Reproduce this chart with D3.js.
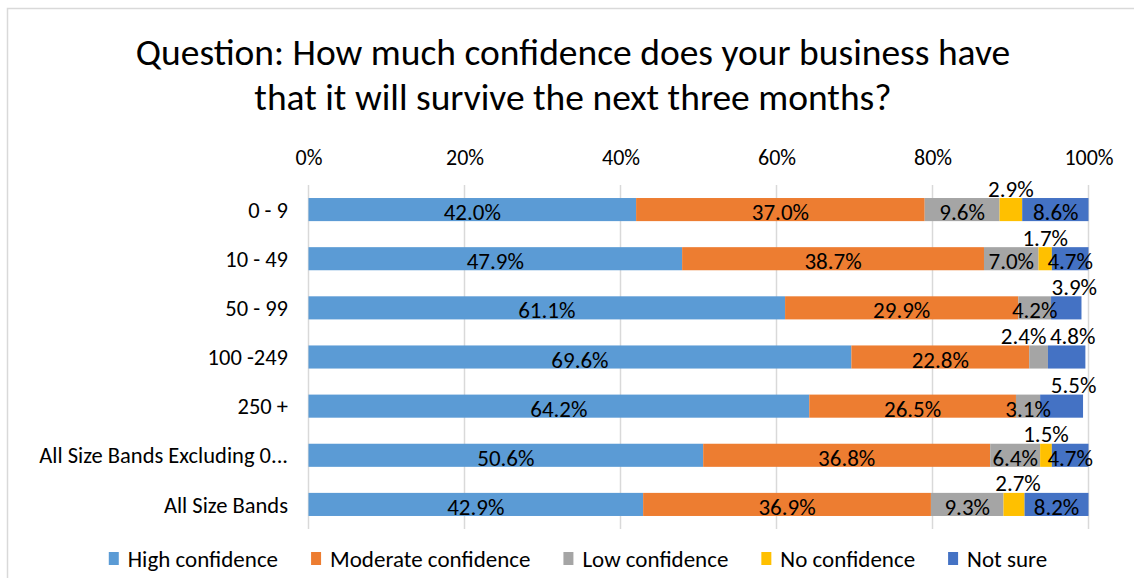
<!DOCTYPE html>
<html>
  <head>
    <meta charset="utf-8">
    <style>
    body {margin:0; background: white;}
    svg {background: white; display: block;}
    text {font-family: Carlito, Calibri, Lato, sans-serif; fill: #000;}
    .grid line {stroke: #d9d9d9; stroke-width: 1.5;}
    </style>
  </head>
  <body>
    <div id="chart"></div>
    <script src="https://d3js.org/d3.v7.min.js"></script>
<script>

  // data (percent of businesses)

  var categories = ["0 - 9", "10 - 49", "50 - 99", "100 -249", "250 +",
    "All Size Bands Excluding 0...", "All Size Bands"];
  var seriesNames = ["High confidence", "Moderate confidence", "Low confidence",
    "No confidence", "Not sure"];
  var seriesColors = ["#5b9bd5", "#ed7d31", "#a5a5a5", "#ffc000", "#4472c4"];

  var highConfidence     = [42.0, 47.9, 61.1, 69.6, 64.2, 50.6, 42.9];
  var moderateConfidence = [37.0, 38.7, 29.9, 22.8, 26.5, 36.8, 36.9];
  var lowConfidence      = [9.6, 7.0, 4.2, 2.4, 3.1, 6.4, 9.3];
  var noConfidence       = [2.9, 1.7, 0, 0, 0, 1.5, 2.7];
  var notSure            = [8.6, 4.7, 3.9, 4.8, 5.5, 4.7, 8.2];

  var tickValues = [0, 20, 40, 60, 80, 100];

  // labels Excel pushed above the bar (value = horizontal nudge)
  var liftedLabels = {
    "0 - 9|No confidence": 0,
    "10 - 49|No confidence": 0,
    "50 - 99|Not sure": 8,
    "100 -249|Low confidence": -15,
    "100 -249|Not sure": 6,
    "250 +|Not sure": 12,
    "All Size Bands Excluding 0...|No confidence": 0,
    "All Size Bands|No confidence": 4
  };

  var allSeries = [highConfidence, moderateConfidence, lowConfidence, noConfidence, notSure];

  var rows = categories.map(function(c, i) {
    var r = {category: c};
    seriesNames.forEach(function(s, j) { r[s] = allSeries[j][i]; });
    return r;
  });

  var W = 1134, H = 578;
  var margin = {left: 308.5, right: 45.5, top: 185, bottom: 49};

  var svg = d3.select("#chart")
    .append("svg")
    .attr("width", W)
    .attr("height", H);

  // chart area border
  svg.append("rect")
    .attr("x", 7.5).attr("y", 8.5)
    .attr("width", W + 20).attr("height", H + 20)
    .attr("fill", "white")
    .attr("stroke", "#d9d9d9")
    .attr("stroke-width", 1.5);

  var xscale = d3.scaleLinear()
    .domain([0, 100])
    .range([margin.left, W - margin.right])
    .clamp(true);

  var yscale = d3.scaleBand()
    .domain(categories)
    .range([margin.top, H - margin.bottom])
    .paddingInner(0.53)
    .paddingOuter(0.265);

  var color = d3.scaleOrdinal().domain(seriesNames).range(seriesColors);

  // title
  var title = svg.append("text")
    .attr("text-anchor", "middle")
    .style("font-size", "37.5px");
  title.append("tspan").attr("x", 573).attr("y", 65)
    .text("Question: How much confidence does your business have");
  title.append("tspan").attr("x", 573).attr("y", 110)
    .text("that it will survive the next three months?");

  // gridlines
  svg.append("g")
    .attr("class", "grid")
    .selectAll("line")
    .data(tickValues)
    .enter().append("line")
    .attr("x1", function(d) { return xscale(d); })
    .attr("x2", function(d) { return xscale(d); })
    .attr("y1", margin.top)
    .attr("y2", H - margin.bottom);

  // top axis labels
  var xaxis = d3.axisTop(xscale)
    .tickValues(tickValues)
    .tickSize(0)
    .tickPadding(0)
    .tickFormat(function(d) { return d + "%"; });

  var gx = svg.append("g")
    .attr("transform", "translate(0,165)")
    .call(xaxis);
  gx.select(".domain").remove();
  gx.selectAll("text")
    .attr("dy", 0)
    .style("font-family", "Carlito, Calibri, Lato, sans-serif")
    .style("font-size", "22px")
    .attr("fill", "#000");

  // category labels
  var yaxis = d3.axisLeft(yscale).tickSize(0).tickPadding(0);
  var gy = svg.append("g")
    .attr("transform", "translate(288,0)")
    .call(yaxis);
  gy.select(".domain").remove();
  gy.selectAll("text")
    .attr("dy", "0.36em")
    .style("font-family", "Carlito, Calibri, Lato, sans-serif")
    .style("font-size", "22.5px")
    .attr("fill", "#000");

  // stacked bars
  var stack = d3.stack().keys(seriesNames);
  var layers = stack(rows);

  var layer = svg.append("g")
    .selectAll(".layer")
    .data(layers)
    .enter().append("g")
    .attr("fill", function(d) { return color(d.key); });

  layer.selectAll("rect")
    .data(function(d) { return d; })
    .enter().append("rect")
    .attr("x", function(d) { return xscale(d[0]); })
    .attr("width", function(d) { return Math.max(0, xscale(d[1]) - xscale(d[0])); })
    .attr("y", function(d) { return yscale(d.data.category); })
    .attr("height", yscale.bandwidth());

  // data labels
  var labels = [];
  layers.forEach(function(l) {
    l.forEach(function(d) {
      var v = d[1] - d[0];
      if (v <= 0) return;
      var key = d.data.category + "|" + l.key;
      var lifted = liftedLabels.hasOwnProperty(key);
      labels.push({
        text: v.toFixed(1) + "%",
        x: xscale((d[0] + d[1]) / 2) + (lifted ? liftedLabels[key] : 0),
        y: lifted ? yscale(d.data.category) - 1.5
                  : yscale(d.data.category) + yscale.bandwidth() / 2 + 10.5
      });
    });
  });

  svg.append("g")
    .selectAll("text")
    .data(labels)
    .enter().append("text")
    .attr("x", function(d) { return d.x; })
    .attr("y", function(d) { return d.y; })
    .attr("text-anchor", "middle")
    .style("font-size", "23px")
    .text(function(d) { return d.text; });

  // legend
  var legend = svg.append("g");
  var lx = 0;
  seriesNames.forEach(function(s) {
    var item = legend.append("g").attr("transform", "translate(" + lx + ",0)");
    item.append("rect")
      .attr("x", 0).attr("y", 552)
      .attr("width", 10).attr("height", 13)
      .attr("fill", color(s));
    var t = item.append("text")
      .attr("x", 19).attr("y", 567)
      .style("font-size", "23px")
      .text(s);
    lx += 19 + t.node().getComputedTextLength() + 33;
  });
  var legendWidth = lx - 33;
  legend.attr("transform", "translate(" + (578 - legendWidth / 2) + ",0)");

</script>
  </body>
</html>
